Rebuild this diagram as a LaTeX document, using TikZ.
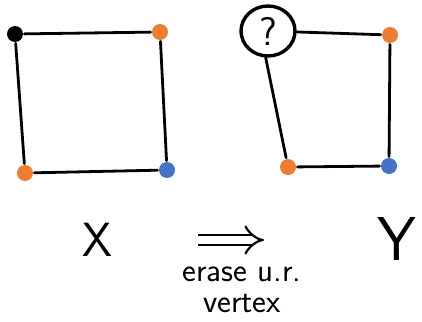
\documentclass[tikz,border=0pt]{standalone}
\usepackage{fontspec}
\usetikzlibrary{shapes.geometric,arrows.meta}
\definecolor{vorange}{HTML}{ED7D31}
\definecolor{vblue}{HTML}{4472C4}
\begin{document}
\begin{tikzpicture}[x=1pt, y=-1pt, line width=2.8pt, line cap=round,
  every node/.style={font=\sffamily},
  vtx/.style={circle, inner sep=0pt, minimum size=16pt},
  note/.style={inner sep=0pt, align=center,
               font=\sffamily\fontsize{33}{31}\selectfont}]
  \useasboundingbox (0,0) rectangle (422,321);
  % X
  \node[vtx, fill=black]   (a) at (15,34) {};
  \node[vtx, fill=vorange] (b) at (160,32) {};
  \node[vtx, fill=vorange] (c) at (25,173) {};
  \node[vtx, fill=vblue]   (d) at (167,170) {};
  \draw (a)--(b)--(d)--(c)--(a);
  % Y
  \node[ellipse, draw, line width=3.4pt, minimum width=54pt, minimum height=50pt,
        inner sep=0pt, font=\sffamily\fontsize{40}{40}\selectfont] (q) at (268,31) {?};
  \node[vtx, fill=vorange] (e) at (390,35) {};
  \node[vtx, fill=vorange] (f) at (288,167) {};
  \node[vtx, fill=vblue]   (g) at (389,166) {};
  \draw (q)--(e)--(g)--(f)--(q.-95);
  % labels
  \node[font=\sffamily\fontsize{48}{48}\selectfont] (lx) at (97,240) {X};
  \node[font=\sffamily\fontsize{62}{62}\selectfont] (ly) at (397,239) {Y};
  \coordinate (as) at (198,240);
  \coordinate (ae) at (264,240);
  \draw[line width=2.2pt, line cap=butt, double distance=8pt, -{Implies}] (as)--(ae);
  \node[note] (t1) at (242,290) {erase u.r.\\vertex};
\end{tikzpicture}
\end{document}
